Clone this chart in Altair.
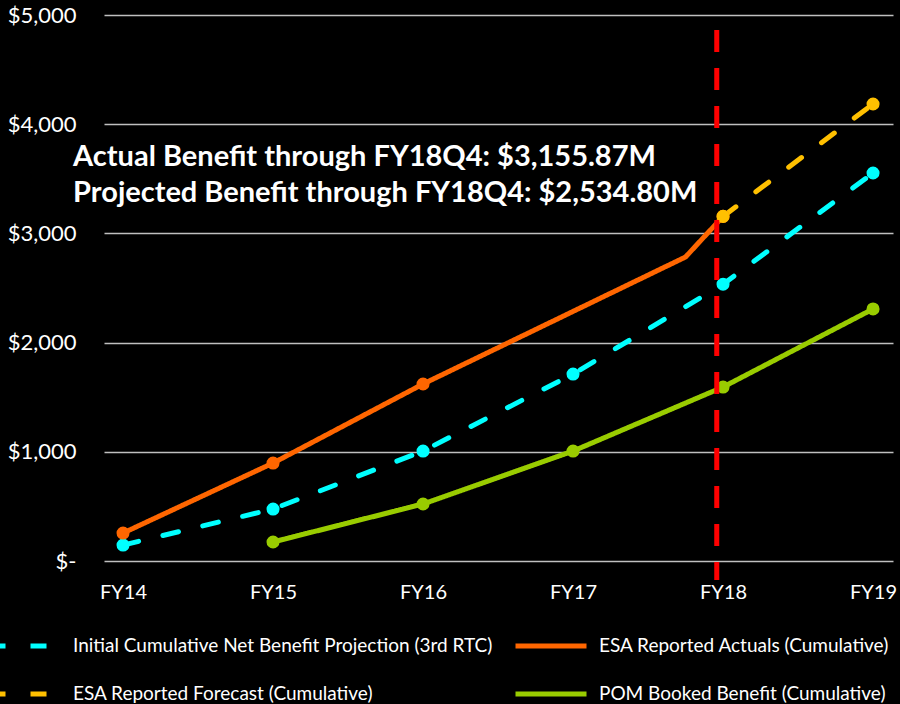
import altair as alt
import pandas as pd

# ---- data ----
year_ticks = [0, 1, 2, 3, 4, 5]           # FY14 .. FY19
series_names = [
    "Initial Cumulative Net Benefit Projection (3rd RTC)",
    "ESA Reported Forecast (Cumulative)",
    "ESA Reported Actuals (Cumulative)",
    "POM Booked Benefit (Cumulative)",
]
series_colors = ["#00FFFF", "#FFC000", "#FF6600", "#99CC00"]
series_dash = [[16, 25], [16, 25], [1, 0], [1, 0]]

proj_x = [0, 1, 2, 3, 4, 5]
proj_y = [146, 476, 1007, 1712, 2534.80, 3553]

actual_x = [0, 1, 2, 3.75, 4]
actual_y = [256, 897, 1621, 2784, 3155.87]
actual_marker = [True, True, True, False, True]

forecast_x = [4, 5]
forecast_y = [3155.87, 4185]

pom_x = [1, 2, 3, 4, 5]
pom_y = [174, 522, 1007, 1593, 2308]

marker_line_x = [3.958]
marker_line_top = [4863]
marker_line_bottom = [-175]

notes = [
    "Actual Benefit through FY18Q4: $3,155.87M",
    "Projected Benefit through FY18Q4: $2,534.80M",
]
notes_x = [-0.333, -0.333]
notes_y = [3700, 3370]

# ---- build table ----
rows = []
for x, y in zip(proj_x, proj_y):
    rows.append({"series": series_names[0], "x": x, "y": y, "marker": True})
for x, y, m in zip(actual_x, actual_y, actual_marker):
    rows.append({"series": series_names[2], "x": x, "y": y, "marker": m})
for x, y in zip(forecast_x, forecast_y):
    rows.append({"series": series_names[1], "x": x, "y": y, "marker": True})
for x, y in zip(pom_x, pom_y):
    rows.append({"series": series_names[3], "x": x, "y": y, "marker": True})
df = pd.DataFrame(rows)

vline = pd.DataFrame({"x": marker_line_x, "y": marker_line_top, "y2": marker_line_bottom})
notes_df = pd.DataFrame({"text": notes, "x": notes_x, "y": notes_y})

FONT = "Lato"

x_scale = alt.Scale(domain=[-0.127, 5.133], nice=False, zero=False)
y_scale = alt.Scale(domain=[0, 5000], nice=False)

x_enc = alt.X(
    "x:Q", scale=x_scale,
    axis=alt.Axis(values=year_ticks, labelExpr="'FY' + (14 + datum.value)", title=None,
                  grid=False, domain=False, ticks=False, labelPadding=21,
                  labelFontSize=20, labelColor="white", labelFont=FONT),
)
y_enc = alt.Y(
    "y:Q", scale=y_scale,
    axis=alt.Axis(values=[0, 1000, 2000, 3000, 4000, 5000],
                  labelExpr="datum.value == 0 ? '$-' : '$' + format(datum.value, ',')",
                  title=None, grid=True, gridColor="#BFBFBF", gridWidth=1.5,
                  domain=False, ticks=False, labelPadding=28,
                  labelFontSize=22, labelColor="white", labelFont=FONT),
)

legend_opts = dict(
    orient="none", legendX=-117, legendY=593, columns=2, title=None,
    symbolType="stroke", symbolSize=5041, symbolStrokeWidth=5,
    labelFont=FONT, labelFontSize=19, labelColor="white", labelLimit=600,
    columnPadding=12, rowPadding=-23, labelOffset=10, gridAlign="each", padding=0,
)

lines = alt.Chart(df).mark_line(strokeWidth=5, strokeCap="round", strokeJoin="round").encode(
    x=x_enc,
    y=y_enc,
    color=alt.Color(
        "series:N",
        scale=alt.Scale(domain=series_names, range=series_colors),
        sort=series_names,
        legend=alt.Legend(**legend_opts),
    ),
    strokeDash=alt.StrokeDash(
        "series:N",
        scale=alt.Scale(domain=series_names, range=series_dash),
        sort=series_names,
        legend=alt.Legend(**legend_opts),
    ),
    order=alt.Order("x:Q"),
    detail="series:N",
)

points = alt.Chart(df).transform_filter("datum.marker").mark_point(
    filled=True, size=170, opacity=1, shape="circle"
).encode(
    x="x:Q",
    y="y:Q",
    fill=alt.Fill("series:N", scale=alt.Scale(domain=series_names, range=series_colors), legend=None),
)

rule = alt.Chart(vline).mark_rule(color="#FF0000", strokeWidth=5, strokeDash=[22, 16], clip=False).encode(
    x="x:Q", y="y:Q", y2="y2:Q"
)

texts = alt.Chart(notes_df).mark_text(
    align="left", baseline="middle", font=FONT, fontSize=29, fontWeight="bold", color="white"
).encode(x="x:Q", y="y:Q", text="text:N")

chart = alt.layer(lines, points, rule, texts).properties(
    width=789, height=546,
    autosize=alt.AutoSizeParams(type="none"),
    padding={"left": 104, "top": 15, "right": 7, "bottom": 143},
    background="black",
).configure_view(stroke=None)

chart.save("out.html", embed_options={"renderer": "svg", "actions": False})
